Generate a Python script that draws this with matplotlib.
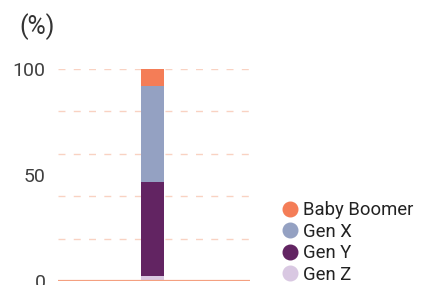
import matplotlib.pyplot as plt
from matplotlib.lines import Line2D

plt.rcParams['font.family'] = ['Roboto', 'DejaVu Sans']

generations = ['Gen Z', 'Gen Y', 'Gen X', 'Baby Boomer']
shares = [2.5, 44.3, 45.2, 8.0]
colors = ['#D9C8E2', '#622462', '#94A1C2', '#F47D57']
yticks = [0, 50, 100]
grid_levels = [20, 40, 60, 80, 100]

fig = plt.figure(figsize=(4.27, 2.85), dpi=100)
ax = fig.add_axes([58 / 427, 4 / 285, 192 / 427, 212 / 285])

bottom = 0
for gen, val, col in zip(generations, shares, colors):
    ax.bar(0, val, width=0.12, bottom=bottom, color=col, zorder=3)
    bottom += val

for lv in grid_levels:
    ax.axhline(lv, color='#F9D2C2', lw=1, dashes=(5, 6), zorder=1)
ax.axhline(0, color='#F4A080', lw=1.6, zorder=4)

ax.set_xlim(-0.492, 0.508)
ax.set_ylim(0, 100)
ax.set_yticks(yticks)
ax.set_xticks([])
ax.tick_params(axis='y', length=0, pad=9, labelsize=14, labelcolor='#404040')
for s in ax.spines.values():
    s.set_visible(False)
for lab in ax.get_yticklabels():
    lab.set_clip_on(False)

fig.text(19 / 427, 1 - 27 / 285, '(%)', fontsize=18,
         color='#333333', va='center', ha='left')

handles = [Line2D([], [], ls='none', marker='o', markersize=10.5,
                  markerfacecolor=c, markeredgecolor=c)
           for c in colors[::-1]]
fig.legend(handles, generations[::-1], loc='upper left',
           bbox_to_anchor=(284 / 427, 1 - 201 / 285), frameon=False,
           fontsize=13.3, handlelength=0.7, handletextpad=0.35,
           labelspacing=0.19, borderaxespad=0, borderpad=0,
           labelcolor='#222222')

fig.savefig('out.png', dpi=100)
